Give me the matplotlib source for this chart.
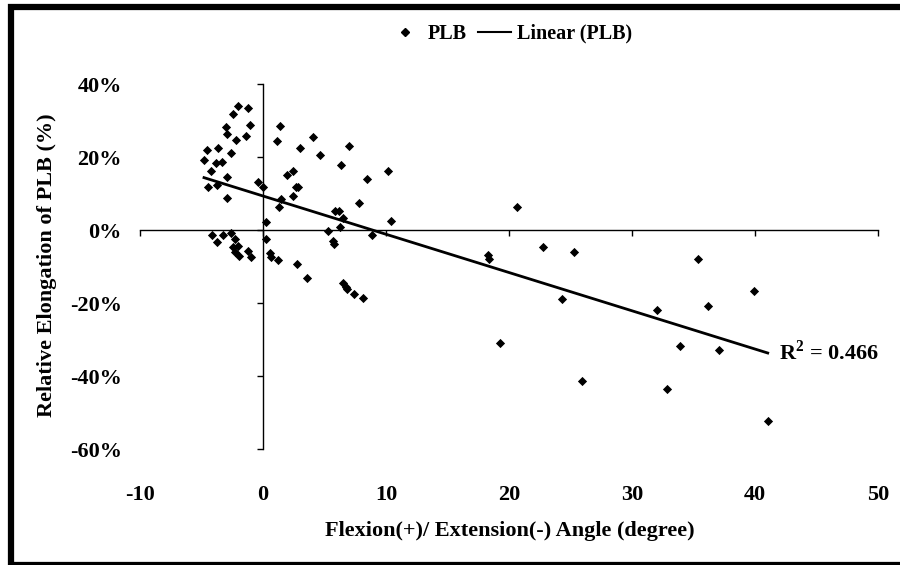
import numpy as np
import matplotlib
matplotlib.use("Agg")
import matplotlib.pyplot as plt
from matplotlib.lines import Line2D
from matplotlib.patches import Rectangle

# ---- data ----
angle = [
    -2.01, -1.20, -2.48, -1.06, -3.03, -2.95, -1.38, -2.22, -4.59, -3.68,
    -2.60, -4.80, -3.85, -3.36, -4.27, -2.89, -4.45, -3.76, -0.43, -0.02,
    -2.92, 0.24, -4.12, -3.76, -3.27, -2.60, -2.28, -2.41, -2.01, -2.28,
    -1.93, -1.20, -0.98, 0.24, 0.57, 0.65, 1.22, 2.74,
    1.38, 1.11, 3.01, 4.04, 4.63, 7.02, 6.34, 10.19, 8.48, 1.95,
    2.44, 2.68, 2.87, 2.46, 1.26, 1.44, 7.77, 5.85, 6.18, 6.53,
    6.26, 10.38, 5.31, 5.67, 5.80, 8.89, 3.55, 6.52, 6.75, 6.85,
    7.43, 8.11,
    20.63, 18.32, 18.40, 22.79, 25.31, 24.33, 19.27, 25.96,
    35.39, 39.92, 32.00, 36.20, 33.90, 37.04, 32.87, 41.03,
]
elongation = [
    34.0, 33.3, 31.7, 28.8, 28.3, 26.3, 25.8, 24.7, 21.9, 22.4,
    21.0, 19.2, 18.3, 18.7, 16.2, 14.4, 11.9, 12.3, 13.2, 11.7,
    8.7, 2.3, -1.4, -3.4, -1.5, -0.9, -2.5, -4.6, -4.3, -5.9,
    -7.1, -5.7, -7.5, -2.4, -6.4, -7.3, -8.2, -9.4,
    28.6, 24.4, 22.5, 25.4, 20.5, 23.1, 17.7, 16.2, 13.9, 15.1,
    16.2, 11.9, 11.9, 9.3, 6.4, 8.4, 7.3, 5.3, 5.3, 3.2,
    0.9, 2.5, -0.2, -2.9, -3.8, -1.4, -13.1, -14.6, -15.5, -16.2,
    -17.5, -18.5,
    6.4, -6.8, -7.9, -4.6, -5.9, -18.9, -31.0, -41.4,
    -7.9, -16.6, -21.9, -20.7, -31.8, -32.9, -43.6, -52.2,
]
x_ticks = [-10, 0, 10, 20, 30, 40, 50]
y_ticks = [-60, -40, -20, 0, 20, 40]
r2_text = "R$^2$ = 0.466"

x = np.array(angle)
y = np.array(elongation)
slope, intercept = np.polyfit(x, y, 1)
fit_x = np.array([x.min(), x.max()])
fit_y = slope * fit_x + intercept

FONT = ["Liberation Serif", "DejaVu Serif"]
plt.rcParams["font.family"] = FONT
plt.rcParams["font.weight"] = "bold"
plt.rcParams["mathtext.fontset"] = "custom"
plt.rcParams["mathtext.rm"] = "Liberation Serif:bold"
plt.rcParams["mathtext.bf"] = "Liberation Serif:bold"

fig = plt.figure(figsize=(9, 5.65), dpi=100)
pos = [0.1556, 0.2053, 0.82, 0.646]

# main axes with crossing axis lines
ax = fig.add_axes(pos)
ax.set_xlim(-10, 50)
ax.set_ylim(-60, 40)
ax.patch.set_visible(False)
for s in ["top", "right"]:
    ax.spines[s].set_visible(False)
ax.spines["left"].set_position(("data", 0))
ax.spines["bottom"].set_position(("data", 0))
ax.spines["left"].set_linewidth(1.0)
ax.spines["bottom"].set_linewidth(1.0)
ax.set_xticks(x_ticks)
ax.set_yticks(y_ticks)
ax.tick_params(axis="both", direction="out", length=4, width=1,
               labelbottom=False, labelleft=False)

ax.scatter(x, y, marker="D", s=22, color="black", zorder=3, linewidths=0)
ax.plot(fit_x, fit_y, color="black", lw=2, zorder=2)
ax.text(fit_x[1] + 0.9, fit_y[1], r2_text, fontsize=16, fontweight="bold",
        va="center", ha="left")

# overlay axes for tick labels (placed low / left like Excel)
ax2 = fig.add_axes(pos, frameon=False)
ax2.set_xlim(-10, 50)
ax2.set_ylim(-60, 40)
ax2.set_xticks(x_ticks)
ax2.set_yticks(y_ticks)
ax2.set_xticklabels([str(v) for v in x_ticks])
ax2.set_yticklabels([f"{v}%" for v in y_ticks])
ax2.tick_params(axis="x", length=0, pad=26, labelsize=16)
ax2.tick_params(axis="y", length=0, pad=13, labelsize=16)
for lab in ax2.get_xticklabels() + ax2.get_yticklabels():
    lab.set_fontweight("bold")

fig.text(0.052, 0.531, "Relative Elongation of PLB (%)", rotation=90,
         ha="center", va="center", fontsize=16, fontweight="bold")
fig.text(0.567, 0.06, "Flexion(+)/ Extension(-) Angle (degree)",
         ha="center", va="center", fontsize=16, fontweight="bold")

handles = [Line2D([], [], marker="D", color="black", ls="none", markersize=4),
           Line2D([], [], color="black", lw=1.5)]
fig.legend(handles, ["PLB", "Linear (PLB)"], loc="center",
           bbox_to_anchor=(0.567, 0.94), ncol=2, frameon=False,
           prop={"size": 14.5, "weight": "bold"}, handlelength=1.6,
           handletextpad=0.3, columnspacing=0.6)

# outer black frame (left, top, bottom)
fig.patches.append(Rectangle((0.0122, 0.0005), 1.2, 0.9865, transform=fig.transFigure,
                             fill=False, edgecolor="black", lw=4.5))

fig.savefig("out.png", dpi=100)
